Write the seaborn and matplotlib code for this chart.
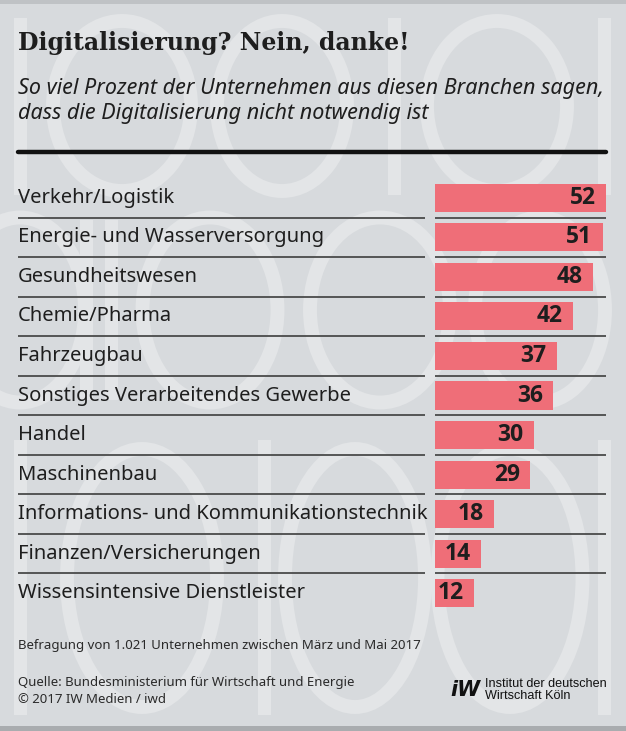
"""
Balkendiagramm: Anteil der Unternehmen, die Digitalisierung nicht fuer notwendig halten.
"""
import matplotlib
matplotlib.use("Agg")
import matplotlib.pyplot as plt
import matplotlib.transforms as mtransforms
from matplotlib.patches import Ellipse, Rectangle
import pandas as pd
import seaborn as sns

# Daten
categories = [
    "Verkehr/Logistik",
    "Energie- und Wasserversorgung",
    "Gesundheitswesen",
    "Chemie/Pharma",
    "Fahrzeugbau",
    "Sonstiges Verarbeitendes Gewerbe",
    "Handel",
    "Maschinenbau",
    "Informations- und Kommunikationstechnik",
    "Finanzen/Versicherungen",
    "Wissensintensive Dienstleister",
]
values = [52, 51, 48, 42, 37, 36, 30, 29, 18, 14, 12]

title = "Digitalisierung? Nein, danke!"
subtitle = ("So viel Prozent der Unternehmen aus diesen Branchen sagen,\n"
            "dass die Digitalisierung nicht notwendig ist")
note = "Befragung von 1.021 Unternehmen zwischen März und Mai 2017"
source = "Quelle: Bundesministerium für Wirtschaft und Energie\n© 2017 IW Medien / iwd"
logo_text = "Institut der deutschen\nWirtschaft Köln"

BG = "#d7dadd"
WM = "#e3e5e7"
BAR = "#ef6e78"
TXT = "#1e1e1e"

W, H = 626, 731
df = pd.DataFrame({"branche": categories, "wert": values})

sns.set_theme(style="white")
plt.rcParams["font.family"] = ["Noto Sans", "DejaVu Sans"]

fig = plt.figure(figsize=(W / 100, H / 100), dpi=100)
fig.patch.set_facecolor(BG)


def fx(x):
    return x / W


def fy(y):
    return 1 - y / H


# Hintergrund: grosse "1001"-Ziffern als Wasserzeichen
def ring(cx, cy, w, h):
    fig.patches.append(Ellipse((fx(cx), fy(cy)), w / W, h / H, fill=False,
                               edgecolor=WM, linewidth=10, transform=fig.transFigure,
                               zorder=-5))


def stab(x, y0, y1, w=13):
    fig.patches.append(Rectangle((fx(x), fy(y1)), w / W, (y1 - y0) / H,
                                 facecolor=WM, edgecolor="none",
                                 transform=fig.transFigure, zorder=-5))


stab(14, 18, 195)
ring(122, 106, 138, 170)
ring(282, 106, 130, 170)
stab(388, 18, 195)
ring(497, 106, 140, 170)
stab(598, 18, 195)

ring(20, 310, 130, 185)
stab(80, 220, 400)
stab(105, 220, 400)
ring(210, 310, 135, 185)
ring(380, 310, 140, 185)
ring(540, 310, 130, 185)

stab(14, 440, 715)
ring(142, 578, 150, 258)
stab(258, 440, 715)
ring(355, 578, 140, 258)
ring(510, 578, 145, 258)
stab(598, 440, 715)

# Rahmenlinien oben / unten
fig.patches.append(Rectangle((0, fy(4)), 1, 4 / H, facecolor="#bfc2c5",
                             edgecolor="none", transform=fig.transFigure, zorder=-4))
fig.patches.append(Rectangle((0, 0), 1, 5 / H, facecolor="#a9acaf",
                             edgecolor="none", transform=fig.transFigure, zorder=-4))

# Titel
fig.text(fx(18), fy(43), title, family="DejaVu Serif", fontweight="bold",
         fontsize=17, color=TXT, va="center", ha="left")
fig.text(fx(18), fy(101), subtitle, style="italic", fontsize=15.5, color=TXT,
         va="center", ha="left", linespacing=1.3)
fig.add_artist(plt.Line2D([fx(18), fx(606)], [fy(152), fy(152)], color="#111111",
                          linewidth=3.2, transform=fig.transFigure))

# Balken
ax = fig.add_axes([fx(435), fy(613), 171 / W, 435 / H])
ax.set_facecolor("none")
sns.barplot(data=df, x="wert", y="branche", orient="h", color=BAR,
            saturation=1, width=0.71, edgecolor="none", linewidth=0, ax=ax)
ax.set_xlim(0, 52)
ax.set_ylim(len(categories) - 0.5, -0.5)
ax.set_axis_off()

trans = mtransforms.blended_transform_factory(fig.transFigure, ax.transData)
for i, (cat, v) in enumerate(zip(categories, values)):
    ax.text(fx(18), i, cat, transform=trans, ha="left", va="center",
            fontsize=14.5, color=TXT)
    ax.text(v - 3.2, i, str(v), ha="right", va="center", fontsize=16.5,
            family="Open Sans", fontweight="bold", color=TXT)
    if i < len(categories) - 1:
        ax.hlines(i + 0.5, fx(18), fx(425), transform=trans, color="#4a4a4a",
                  linewidth=1.3, clip_on=False)
        ax.hlines(i + 0.5, fx(435), fx(606), transform=trans, color="#4a4a4a",
                  linewidth=1.3, clip_on=False)

# Fusszeile
fig.text(fx(18), fy(645), note, fontsize=9.5, color="#2a2a2a", va="center")
fig.text(fx(18), fy(691), source, fontsize=9.5, color="#2a2a2a", va="center",
         linespacing=1.35)
fig.text(fx(450), fy(690), "iW", family="DejaVu Sans", fontweight="bold",
         style="italic", fontsize=15, color="#111111", va="center")
fig.text(fx(485), fy(690), logo_text, family="Liberation Sans", fontsize=9.1,
         color="#111111", va="center", linespacing=1.05)

fig.savefig("out.png", dpi=100, facecolor=BG)
